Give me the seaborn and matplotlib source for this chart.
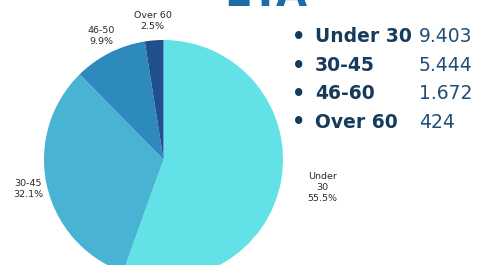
import matplotlib
matplotlib.use('Agg')
import matplotlib.pyplot as plt
import seaborn as sns

# slice data (pie labels as shown on the chart)
pie_labels = ['Under\n30', '30-45', '46-50', 'Over 60']
counts = [9403, 5444, 1672, 424]
slice_colors = ['#62E1E6', '#48B3D3', '#2E89BC', '#214F8E']

# right-hand list
list_labels = ['Under 30', '30-45', '46-60', 'Over 60']
list_values = ['9.403', '5.444', '1.672', '424']

sns.set_theme(style='white')
plt.rcParams['font.family'] = ['DejaVu Sans']

fig = plt.figure(figsize=(4.79, 2.65), dpi=100)
W, H = 479, 265

# pie axes placed in pixel terms: center (163.5, 159.5 from top), radius 119.5
cx, cy, r = 163.5, 159.5, 119.5
ax = fig.add_axes([(cx - r) / W, (H - cy - r) / H, 2 * r / W, 2 * r / H])
wedges, texts, autotexts = ax.pie(
    counts, labels=pie_labels, colors=sns.color_palette(slice_colors),
    startangle=90, counterclock=False, autopct='%1.1f%%',
    labeldistance=1.16, pctdistance=1.16, radius=1,
    wedgeprops=dict(linewidth=0, edgecolor='none'),
    textprops=dict(fontsize=6.8, color='#2A2A2A'))
ax.set_xlim(-1, 1)
ax.set_ylim(-1, 1)
ax.set_aspect('equal')
ax.axis('off')

# merge label + percent into one centred text
for i, (t, a) in enumerate(zip(texts, autotexts)):
    x, y = t.get_position()
    if i == 0:
        x, y = x * 1.35 / 1.16, y * 1.35 / 1.16
    t.set_text(t.get_text() + '\n' + a.get_text())
    t.set_position((x, y))
    t.set_ha('center')
    t.set_va('center')
    t.set_linespacing(1.3)
    a.set_visible(False)

# title, mostly cut off at the top
fig.text(266 / W, 1 - 6 / H, 'ETA', ha='center', va='baseline',
         fontsize=29, fontweight='bold', color='#1D6BA5')

# list on the right
rows_y = [37, 66, 94, 122]
for lab, val, yy in zip(list_labels, list_values, rows_y):
    fy = 1 - yy / H
    fig.text(299 / W, fy, '\u2022', ha='center', va='center',
             fontsize=15, fontweight='bold', color='#173B5C')
    fig.text(315 / W, fy, lab, ha='left', va='center',
             fontsize=13.5, fontweight='bold', color='#173B5C')
    fig.text(419 / W, fy, val, ha='left', va='center',
             fontsize=13.5, color='#1F4E79')

fig.savefig('out.png', dpi=100, facecolor='white')
